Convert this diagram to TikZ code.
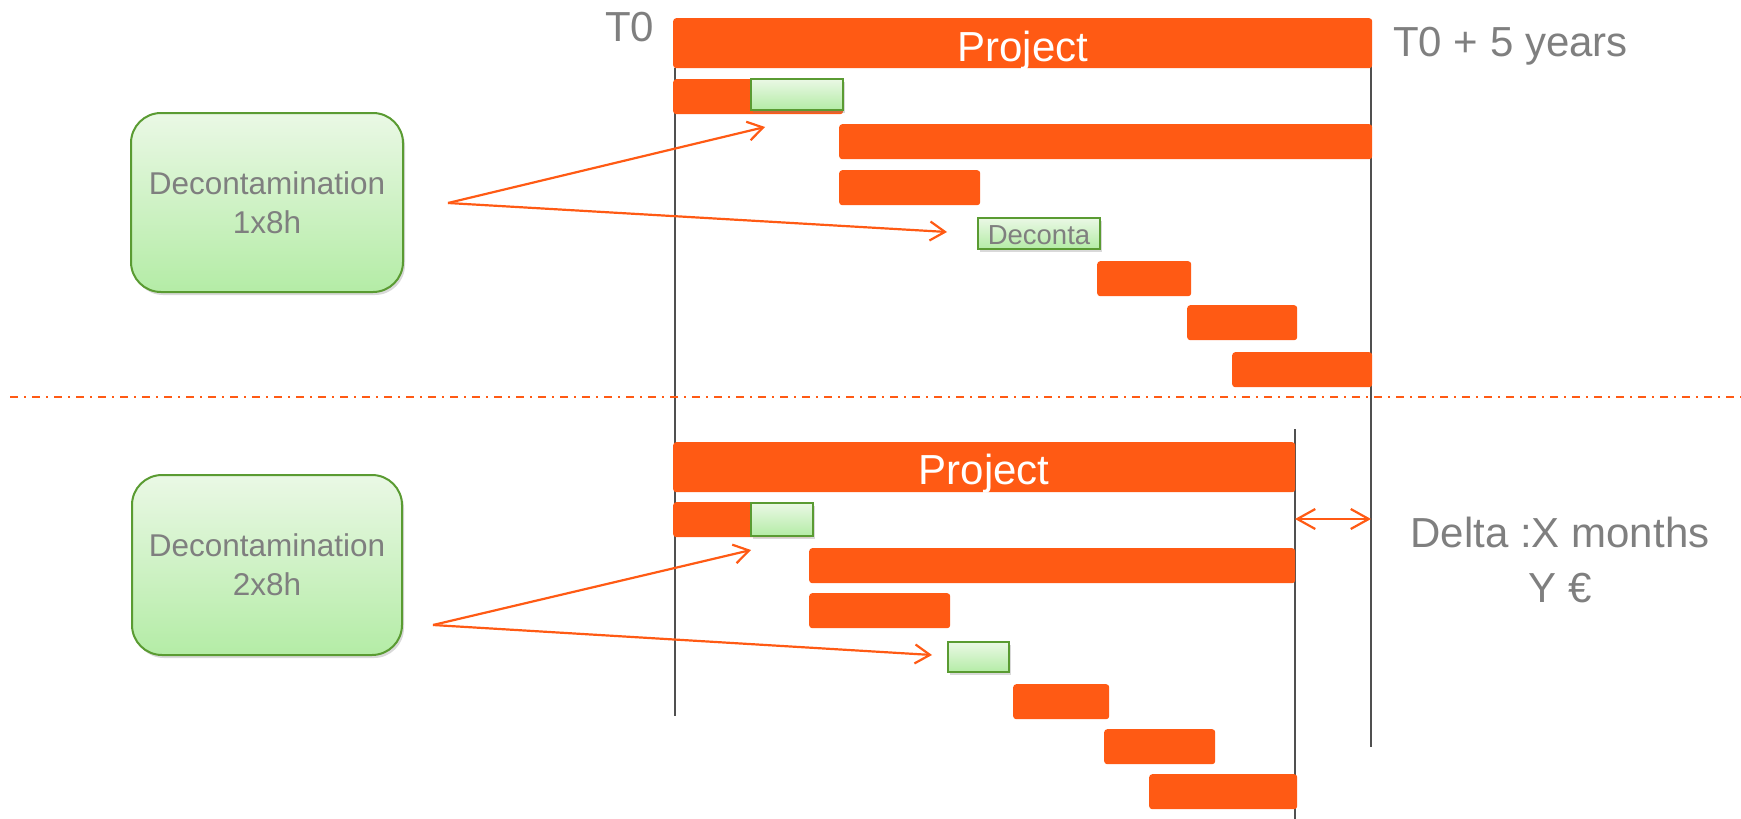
\documentclass[tikz,border=0pt]{standalone}
\usepackage{fontspec}
\setmainfont{Liberation Sans}
\usetikzlibrary{arrows.meta,shadows}
\definecolor{barorange}{RGB}{255,90,20}
\definecolor{boxgreen}{RGB}{90,155,50}
\definecolor{greentop}{RGB}{234,248,229}
\definecolor{greenbot}{RGB}{180,236,166}
\definecolor{txtgray}{RGB}{127,127,127}
\definecolor{linegray}{RGB}{80,80,80}
\newcommand\fs[2]{\fontsize{#1}{#2}\selectfont}
\begin{document}
\begin{tikzpicture}[x=1pt,y=-1pt,
  bar/.style={fill=barorange,rounded corners=3pt,inner sep=0pt,anchor=north west,minimum height=35pt},
  task/.style={draw=boxgreen,line width=2pt,top color=greentop,bottom color=greenbot,inner sep=0pt,anchor=north west,
    drop shadow={shadow xshift=2pt,shadow yshift=-3pt,opacity=.3}},
  decbox/.style={task,anchor=center,rounded corners=30pt,text=txtgray,align=center,font=\fs{31.5}{39}},
  lbl/.style={inner sep=0pt,text=txtgray,font=\fs{42}{55}},
  milestone/.style={linegray,line width=2.5pt},
  hint/.style={barorange,line width=2.2pt,-{Straight Barb[length=15pt,width=19pt]}}]
\useasboundingbox (0,0) rectangle (1741,819);
% time lines
\draw[milestone] (675,68) -- (675,716);
\draw[milestone] (1371,36) -- (1371,747);
\draw[milestone] (1295,429) -- (1295,819);
\draw[barorange,line width=2pt,dash pattern=on 8pt off 6pt on 2pt off 6pt] (10,397) -- (1741,397);
% plan with 1x8h
\node[bar,minimum width=699pt,minimum height=50pt,font=\fs{42}{50},text=white,text height=36pt,text depth=0pt] (proj1) at (673,18) {Project};
\foreach \x/\y/\w [count=\i] in {673/79/170,839/124/533,839/170/141,1097/261/94,1187/305/110,1232/352/140}
  \node[bar,minimum width=\w pt] (a\i) at (\x,\y) {};
\node[task,minimum width=92pt,minimum height=31pt] (g1) at (750,78) {};
\node[task,minimum width=122pt,minimum height=31pt,text=txtgray,font=\fs{27.5}{30},text height=21pt,text depth=0pt] (g2) at (977,217) {Deconta};
% plan with 2x8h
\node[bar,minimum width=622pt,minimum height=50pt,font=\fs{42}{50},text=white,text height=34pt,text depth=0pt] (proj2) at (673,442) {Project};
\foreach \x/\y/\w [count=\i] in {673/502/140,809/548/486,809/593/141,1013/684/96,1104/729/111,1149/774/148}
  \node[bar,minimum width=\w pt] (b\i) at (\x,\y) {};
\node[task,minimum width=62pt,minimum height=33pt] (g3) at (750,502) {};
\node[task,minimum width=61pt,minimum height=30pt] (g4) at (947,641) {};
% labels
\node[lbl,anchor=base west] (t0) at (605,41) {T0};
\node[lbl,anchor=base west] (t5) at (1393,56) {T0 + 5 years};
\node[lbl,align=center] (delta) at (1560,560) {Delta :X months\\Y €};
\node[decbox,minimum width=272pt,minimum height=179pt] (dec1) at (267,202.5) {Decontamination\\1x8h};
\node[decbox,minimum width=270pt,minimum height=180pt] (dec2) at (267,565) {Decontamination\\2x8h};
% arrows
\coordinate (s1) at (448,203);
\coordinate (e1) at (765,127);
\coordinate (e2) at (947,232);
\coordinate (s2) at (433,625);
\coordinate (e3) at (751,550);
\coordinate (e4) at (932,655);
\draw[hint] (s1) -- (e1);
\draw[hint] (s1) -- (e2);
\draw[hint] (s2) -- (e3);
\draw[hint] (s2) -- (e4);
\coordinate (d1) at (1295,519);
\coordinate (d2) at (1371,519);
\draw[hint,{Straight Barb[length=18pt,width=20pt]}-{Straight Barb[length=18pt,width=20pt]}] (d1) -- (d2);
\end{tikzpicture}
\end{document}
